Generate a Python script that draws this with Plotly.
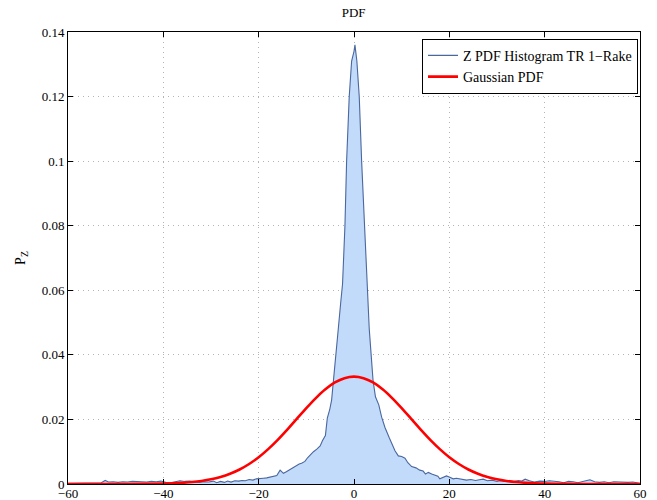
import plotly.graph_objects as go

# Histogram PDF
hist_x = [-60, -59, -58, -57, -56, -55, -54, -53, -52.2, -51.5, -50.5, -49.5, -48.5, -47.5, -46.5,
          -45.5, -44.5, -43.5, -42.5, -41.5, -40.5, -39.5, -38.5, -37.5, -36.5, -35.5, -34.5, -33.5,
          -32.5, -31.5, -30.5, -29.5, -28.8, -28, -27.2, -26.5, -25.8, -25, -24.2, -23.5, -22.8, -22,
          -21.2, -20.5, -19.7, -19, -18.3, -17.5, -16.8, -16.2, -15.5, -14.8, -14.2, -13.4, -12.7, -12,
          -11.5, -11, -10.3, -9.7, -9.2, -8.5, -7.8, -7.1, -6.6, -6.0, -5.6, -5.1, -4.7, -4.3, -3.8,
          -3.3, -2.8, -2.4, -1.9, -1.55, -1.0, -0.5, 0, 0.2, 0.6, 1.1, 1.6, 2.2, 2.7, 3.2, 3.6, 4.0,
          4.5, 5.2, 5.8, 6.5, 7.4, 8.0, 8.6, 9.3, 10.0, 10.7, 11.3, 12.1, 13, 13.8, 14.5, 15.0, 15.6,
          16.3, 17, 17.6, 18.0, 18.7, 19.4, 20.1, 20.8, 21.5, 22.5, 23.6, 24.5, 25.5, 26.3, 27.1, 28,
          29, 30, 30.6, 31.5, 32.5, 33.5, 34.5, 35.2, 35.9, 36.8, 37.8, 39, 40, 41, 42, 43, 44, 45, 46,
          47, 48, 49.5, 50.5, 51.5, 52.5, 53.5, 54.5, 55.5, 56.5, 57.5, 58.5, 59.3, 60]
hist_y = [0.0002, 0.0002, 0.0003, 0.0002, 0.0003, 0.0002, 0.0003, 0.0004, 0.0011, 0.0006, 0.0007,
          0.0005, 0.0007, 0.0006, 0.0008, 0.0007, 0.0008, 0.0006, 0.0008, 0.0007, 0.0009, 0.0005,
          0.0004, 0.0008, 0.0010, 0.0008, 0.0009, 0.0006, 0.0005, 0.0007, 0.0006, 0.0009, 0.0004,
          0.0008, 0.0005, 0.0009, 0.0006, 0.0010, 0.0009, 0.0011, 0.0010, 0.0014, 0.0012, 0.0016,
          0.0016, 0.0018, 0.0019, 0.0021, 0.0023, 0.0026, 0.0043, 0.0033, 0.0038, 0.0045, 0.0050,
          0.0058, 0.0062, 0.0064, 0.0070, 0.0082, 0.0090, 0.0100, 0.0108, 0.0118, 0.0135, 0.0150,
          0.0204, 0.0230, 0.026, 0.033, 0.0405, 0.048, 0.056, 0.062, 0.080, 0.100, 0.120, 0.131,
          0.134, 0.136, 0.131, 0.120, 0.100, 0.080, 0.060, 0.048, 0.040, 0.032, 0.027, 0.0245,
          0.0207, 0.0175, 0.0143, 0.0120, 0.0103, 0.0087, 0.0085, 0.0080, 0.0066, 0.0054, 0.0050,
          0.0043, 0.0040, 0.0031, 0.0036, 0.0031, 0.0026, 0.0024, 0.0016, 0.0020, 0.0025, 0.0021,
          0.0016, 0.0018, 0.0014, 0.0012, 0.0014, 0.0011, 0.0013, 0.0015, 0.0010, 0.0012, 0.0008,
          0.0010, 0.0008, 0.0010, 0.0008, 0.0011, 0.0009, 0.0015, 0.0010, 0.0006, 0.0009, 0.0008,
          0.0010, 0.0009, 0.0007, 0.0004, 0.0008, 0.0007, 0.0004, 0.0008, 0.0013, 0.0007, 0.0005,
          0.0007, 0.0004, 0.0007, 0.0006, 0.0007, 0.0005, 0.0006, 0.0004, 0.0002]

# Gaussian PDF
gauss_x = [-60, -50, -44, -40, -38, -36, -34, -32, -30, -28, -26, -24, -22, -20, -18, -16, -14, -12,
           -10, -8, -6, -4, -2, 0, 2, 4, 6, 8, 10, 12, 14, 16, 18, 20, 22, 24, 26, 28, 30, 32, 34,
           36, 38, 40, 44, 50, 60]
gauss_y = [0.0, 0.00001, 0.00004, 0.00013, 0.00022, 0.00037, 0.00060, 0.00095, 0.00146, 0.00219,
           0.00318, 0.00450, 0.00620, 0.00829, 0.01080, 0.01367, 0.01684, 0.02017, 0.02350,
           0.02662, 0.02934, 0.03145, 0.03279, 0.03325, 0.03279, 0.03145, 0.02934, 0.02662,
           0.02350, 0.02017, 0.01684, 0.01367, 0.01080, 0.00829, 0.00620, 0.00450, 0.00318,
           0.00219, 0.00146, 0.00095, 0.00060, 0.00037, 0.00022, 0.00013, 0.00004, 0.00001, 0.0]

x_ticks = [-60, -40, -20, 0, 20, 40, 60]
x_labels = ["\u221260", "\u221240", "\u221220", "0", "20", "40", "60"]
y_ticks = [0, 0.02, 0.04, 0.06, 0.08, 0.1, 0.12, 0.14]
y_labels = ["0", "0.02", "0.04", "0.06", "0.08", "0.1", "0.12", "0.14"]

FONT = "Liberation Serif"

fig = go.Figure()
fig.add_trace(go.Scatter(x=hist_x, y=hist_y, mode="lines", fill="tozeroy",
                         fillcolor="#c2dbfb", line=dict(width=0, color="#c2dbfb"),
                         showlegend=False, hoverinfo="skip"))
fig.add_trace(go.Scatter(x=hist_x, y=hist_y, mode="lines", name="Z PDF Histogram TR 1\u2212Rake",
                         line=dict(color="#4a679e", width=1.1)))
fig.add_trace(go.Scatter(x=gauss_x, y=gauss_y, mode="lines", name="Gaussian PDF",
                         line=dict(color="#ff0000", width=2.6, shape="spline", smoothing=0.8)))

axis_common = dict(showline=True, linecolor="black", linewidth=1, mirror="ticks",
                   ticks="inside", ticklen=5, tickcolor="black", showgrid=True,
                   gridcolor="#b4b4b4", griddash="1px,4px", gridwidth=1, zeroline=False,
                   automargin=False,
                   tickfont=dict(family=FONT, size=13, color="black"))

fig.update_xaxes(range=[-60, 60], tickvals=x_ticks, ticktext=x_labels, ticklabelstandoff=-3,
                 **axis_common)
fig.update_yaxes(range=[0, 0.14], tickvals=y_ticks, ticktext=y_labels,
                 title=dict(text="P<sub>Z</sub>", font=dict(family=FONT, size=14, color="black"),
                            standoff=12), **axis_common)

fig.update_layout(
    width=657, height=500,
    margin=dict(l=68, r=17, t=32, b=16),
    paper_bgcolor="white", plot_bgcolor="white",
    title=dict(text="PDF", x=0.5383, xanchor="center", y=0.975, yanchor="middle",
               font=dict(family=FONT, size=13, color="black")),
    legend=dict(x=0.9965, xanchor="right", y=0.985, yanchor="top",
                bgcolor="white", bordercolor="black", borderwidth=1,
                font=dict(family=FONT, size=14, color="black"),
                tracegroupgap=0, itemwidth=30),
    showlegend=True,
)

fig.write_html("out.html")
